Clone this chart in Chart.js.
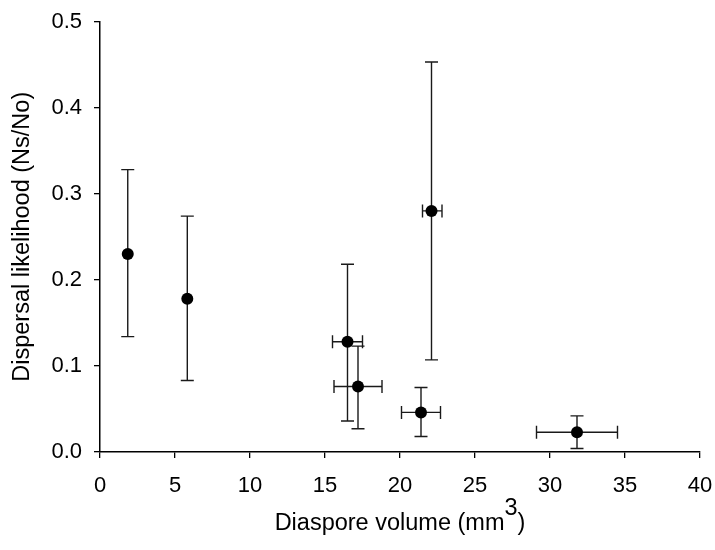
<!DOCTYPE html>
<html>
<head>
<meta charset="utf-8">
<script src="https://cdn.jsdelivr.net/npm/chart.js@4.4.1/dist/chart.umd.min.js"></script>
<style>
html,body{margin:0;padding:0;background:#fff;}
#wrap{width:715px;height:550px;}
</style>
</head>
<body>
<div id="wrap"><canvas id="c" width="715" height="550"></canvas></div>
<script>
// Data
const xValues = [1.85, 5.82, 16.5, 17.2, 21.4, 22.1, 31.8];
const yValues = [0.230, 0.178, 0.128, 0.076, 0.046, 0.280, 0.023];
const yLow    = [0.134, 0.083, 0.036, 0.027, 0.018, 0.107, 0.004];
const yHigh   = [0.328, 0.274, 0.218, 0.123, 0.075, 0.453, 0.042];
const xLow    = [null, null, 15.5, 15.6, 20.1, 21.5, 29.1];
const xHigh   = [null, null, 17.5, 18.8, 22.7, 22.8, 34.5];
const xTicks  = [0, 5, 10, 15, 20, 25, 30, 35, 40];
const yTicks  = [0.0, 0.1, 0.2, 0.3, 0.4, 0.5];
const xTitleMain = 'Diaspore volume (mm';
const xTitleSup = '3';
const xTitleEnd = ')';
const yTitle = 'Dispersal likelihood (Ns/No)';

const FONT = '"Liberation Sans", Arial, Helvetica, sans-serif';

const points = xValues.map((x, i) => ({x: x, y: yValues[i]}));

const errorBars = {
  id: 'errorBars',
  beforeDatasetsDraw(chart) {
    const ctx = chart.ctx;
    const xs = chart.scales.x, ys = chart.scales.y;
    const cap = 6.5;
    ctx.save();
    ctx.strokeStyle = '#1a1a1a';
    ctx.lineWidth = 1.4;
    for (let i = 0; i < xValues.length; i++) {
      const px = xs.getPixelForValue(xValues[i]);
      const py = ys.getPixelForValue(yValues[i]);
      if (yLow[i] != null && yHigh[i] != null) {
        const y1 = ys.getPixelForValue(yLow[i]);
        const y2 = ys.getPixelForValue(yHigh[i]);
        ctx.beginPath();
        ctx.moveTo(px, y1); ctx.lineTo(px, y2);
        ctx.moveTo(px - cap, y1); ctx.lineTo(px + cap, y1);
        ctx.moveTo(px - cap, y2); ctx.lineTo(px + cap, y2);
        ctx.stroke();
      }
      if (xLow[i] != null && xHigh[i] != null) {
        const x1 = xs.getPixelForValue(xLow[i]);
        const x2 = xs.getPixelForValue(xHigh[i]);
        ctx.beginPath();
        ctx.moveTo(x1, py); ctx.lineTo(x2, py);
        ctx.moveTo(x1, py - cap); ctx.lineTo(x1, py + cap);
        ctx.moveTo(x2, py - cap); ctx.lineTo(x2, py + cap);
        ctx.stroke();
      }
    }
    ctx.restore();
  }
};

const axisTitles = {
  id: 'axisTitles',
  afterDraw(chart) {
    const ctx = chart.ctx;
    const area = chart.chartArea;
    ctx.save();
    ctx.fillStyle = '#000';
    ctx.font = '23.5px ' + FONT;
    ctx.textAlign = 'left';
    ctx.textBaseline = 'alphabetic';
    const w1 = ctx.measureText(xTitleMain).width;
    const w2 = ctx.measureText(xTitleSup).width;
    const w3 = ctx.measureText(xTitleEnd).width;
    let x = (area.left + area.right) / 2 - (w1 + w2 + w3) / 2;
    const base = 530;
    ctx.fillText(xTitleMain, x, base); x += w1;
    ctx.fillText(xTitleSup, x, base - 15); x += w2;
    ctx.fillText(xTitleEnd, x, base);
    ctx.translate(23, (area.top + area.bottom) / 2);
    ctx.rotate(-Math.PI / 2);
    ctx.textAlign = 'center';
    ctx.textBaseline = 'middle';
    ctx.fillText(yTitle, 0, 0);
    ctx.restore();
  }
};

new Chart(document.getElementById('c'), {
  type: 'scatter',
  data: {
    datasets: [{
      data: points,
      pointRadius: 6,
      pointHoverRadius: 6,
      pointBackgroundColor: '#000',
      pointBorderColor: '#000',
      borderWidth: 0
    }]
  },
  options: {
    responsive: false,
    devicePixelRatio: 1,
    animation: false,
    events: [],
    layout: {padding: {left: 0, right: 15, top: 21.5, bottom: 0}},
    plugins: {legend: {display: false}, tooltip: {enabled: false}},
    scales: {
      x: {
        type: 'linear',
        min: 0, max: 40,
        afterFit(s) { s.height = 98; s.paddingLeft = 0; s.paddingRight = 0; },
        afterBuildTicks(s) { s.ticks = xTicks.map(v => ({value: v})); },
        ticks: {
          font: {family: FONT, size: 22},
          color: '#000',
          padding: 15,
          maxRotation: 0,
          callback: v => String(v)
        },
        grid: {display: true, drawOnChartArea: false, drawTicks: true, tickLength: 6, color: '#000', lineWidth: 1.3},
        border: {display: true, color: '#000', width: 1.5}
      },
      y: {
        type: 'linear',
        min: 0, max: 0.5,
        afterFit(s) { s.width = 100; s.paddingTop = 0; s.paddingBottom = 0; },
        afterBuildTicks(s) { s.ticks = yTicks.map(v => ({value: v})); },
        ticks: {
          font: {family: FONT, size: 22},
          color: '#000',
          padding: 12,
          callback: v => Number(v).toFixed(1)
        },
        grid: {display: true, drawOnChartArea: false, drawTicks: true, tickLength: 6, color: '#000', lineWidth: 1.3},
        border: {display: true, color: '#000', width: 1.5}
      }
    }
  },
  plugins: [errorBars, axisTitles]
});
</script>
</body>
</html>
